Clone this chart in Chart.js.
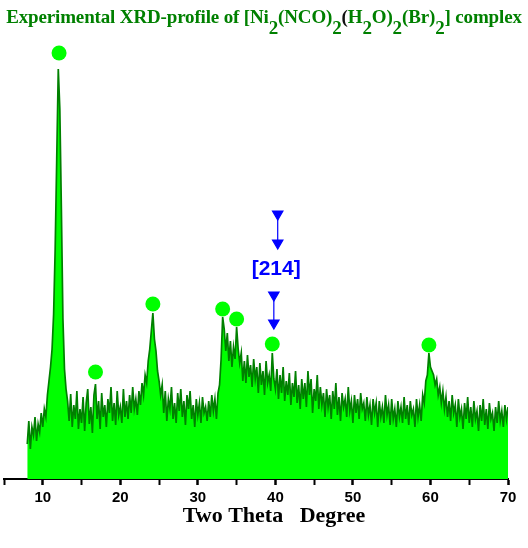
<!DOCTYPE html>
<html>
<head>
<meta charset="utf-8">
<script src="https://cdn.jsdelivr.net/npm/chart.js@4.4.1/dist/chart.umd.min.js"></script>
<style>
  body { margin: 0; background: #fff; }
  #wrap { position: relative; width: 528px; height: 548px; }
  #myChart { position: absolute; left: 0; top: 0; }
  #title {
    position: absolute; left: 0; top: 7px; width: 528px;
    text-align: center; white-space: nowrap;
    font-family: "Liberation Serif", "Times New Roman", serif;
    font-weight: bold; font-size: 19px; line-height: 19px;
    color: #008000; letter-spacing: -0.15px;
  }
  #title .s { position: relative; top: 0.6em; }
  #title .k { color: #111; }
</style>
</head>
<body>
<div id="wrap">
  <canvas id="myChart" width="528" height="548"></canvas>
  <div id="title">Experimental XRD-profile of [Ni<span class="s">2</span>(NCO)<span class="s">2</span><span class="k">(</span>H<span class="s">2</span>O)<span class="s">2</span>(Br)<span class="s">2</span>] complex</div>
</div>
<script>
// scan grid: 2theta from 8.0 to 70.0 in 0.2 degree steps
const scan_start = 8.0
const scan_step = 0.2

// intensity (arb. units), one row = 2 degrees
const intensity = [
    35, 58, 30, 52, 44, 62, 38, 55, 47, 66,          // 8
    52, 70, 62, 84, 98, 112, 130, 165, 230, 320,     // 10
    410, 370, 270, 160, 110, 90, 78, 58, 85, 52,     // 12
    74, 60, 88, 50, 70, 56, 82, 48, 76, 90,          // 14
    55, 72, 46, 84, 95, 60, 78, 50, 86, 62,          // 16
    74, 52, 80, 66, 92, 58, 76, 54, 88, 64,          // 18
    72, 56, 90, 62, 78, 60, 84, 66, 92, 70,          // 20
    80, 64, 88, 74, 96, 84, 104, 96, 118, 130,       // 22
    148, 166, 140, 128, 108, 98, 84, 94, 66, 88,     // 24
    58, 80, 70, 92, 60, 76, 56, 86, 68, 90,          // 26
    62, 78, 54, 84, 70, 88, 60, 74, 52, 80,          // 28
    64, 76, 56, 82, 66, 72, 58, 78, 62, 84,          // 30
    68, 80, 60, 86, 94, 120, 162, 150, 128, 146,     // 32
    118, 138, 112, 132, 120, 152, 130, 116, 126, 98, // 34
    118, 96, 124, 102, 114, 92, 120, 100, 112, 86,   // 36
    116, 94, 108, 84, 118, 96, 104, 88, 126, 100,    // 38
    90, 110, 80, 104, 86, 112, 78, 98, 84, 106,      // 40
    74, 96, 82, 108, 76, 94, 70, 100, 80, 96,        // 42
    72, 108, 84, 100, 66, 90, 78, 104, 70, 92,       // 44
    74, 86, 62, 90, 72, 84, 60, 88, 70, 96,          // 46
    64, 82, 58, 86, 72, 80, 62, 92, 68, 78,          // 48
    56, 84, 66, 80, 60, 86, 70, 76, 58, 82,          // 50
    64, 74, 54, 80, 66, 76, 52, 78, 62, 72,          // 52
    56, 84, 64, 74, 54, 80, 60, 70, 52, 78,          // 54
    62, 72, 56, 82, 60, 74, 54, 78, 64, 70,          // 56
    52, 80, 62, 74, 58, 84, 76, 98, 104, 126,        // 58
    112, 108, 104, 94, 100, 84, 92, 76, 88, 70,      // 60
    82, 62, 78, 58, 84, 66, 74, 52, 80, 62,          // 62
    70, 50, 76, 60, 82, 56, 72, 52, 78, 60,          // 64
    68, 48, 74, 58, 80, 54, 70, 50, 76, 60,          // 66
    66, 48, 72, 56, 78, 58, 68, 52, 74, 60,          // 68
    72                                               // 70
]

// marked reflections (green dots)
const peak_pos = [12.1, 16.8, 24.2, 33.2, 35.0, 39.6, 59.8]
const peak_mark = [426, 107, 175, 170, 160, 135, 134]

// [214] annotation
const hkl_text = '[214]'
const hkl_pos = 40.1
const hkl_level = 210
const arrow_top_x = [40.3, 40.3]
const arrow_top_y = [265, 236]
const arrow_low_x = [39.8, 39.8]
const arrow_low_y = [184, 156]

const x_ticks = [10, 20, 30, 40, 50, 60, 70]
const x_title = 'Two Theta   Degree'

const scan = intensity.map((v, i) => ({ x: +(scan_start + i * scan_step).toFixed(1), y: v }))
const dots = peak_pos.map((p, i) => ({ x: p, y: peak_mark[i] }))
const toXY = (xs, ys) => xs.map((x, i) => ({ x: x, y: ys[i] }))

const hklLabel = {
    id: 'hklLabel',
    afterDatasetsDraw(chart) {
        const c = chart.ctx
        c.save()
        c.fillStyle = '#0000ff'
        c.font = 'bold 21px "Liberation Sans", Arial, sans-serif'
        c.textAlign = 'center'
        c.textBaseline = 'middle'
        c.fillText(hkl_text, chart.scales.x.getPixelForValue(hkl_pos), chart.scales.y.getPixelForValue(hkl_level))
        c.restore()
    }
}

// axis title sits a little right of centre in the original
const axisTitle = {
    id: 'axisTitle',
    afterDraw(chart) {
        const c = chart.ctx
        const a = chart.chartArea
        c.save()
        c.fillStyle = '#000'
        c.font = 'bold 22px "Liberation Serif", "Times New Roman", serif'
        c.textAlign = 'center'
        c.textBaseline = 'alphabetic'
        c.fillText(x_title, (a.left + a.right) / 2 + 18, a.bottom + 43)
        c.restore()
    }
}

const arrowSet = (pts) => ({
    data: pts,
    borderColor: '#0000ff',
    backgroundColor: '#0000ff',
    borderWidth: 1.2,
    pointStyle: 'triangle',
    rotation: 180,
    pointRadius: 6,
    fill: false,
    order: 0
})

var ctx = document.getElementById('myChart').getContext('2d');
var myChart = new Chart(ctx, {
    type: 'line',
    data: {
        datasets: [
            arrowSet(toXY(arrow_top_x, arrow_top_y)),
            arrowSet(toXY(arrow_low_x, arrow_low_y)),
            {
                label: 'peaks',
                data: dots,
                showLine: false,
                pointRadius: 7.5,
                pointBackgroundColor: '#00ff00',
                pointBorderWidth: 0,
                order: 1
            },
            {
                label: 'XRD',
                data: scan,
                borderColor: '#008000',
                backgroundColor: '#00ff00',
                borderWidth: 1.7,
                pointRadius: 0,
                tension: 0,
                fill: 'origin',
                order: 2
            }
        ]
    },
    options: {
        responsive: false,
        animation: false,
        layout: { autoPadding: false, padding: { left: 4, right: 20, top: 40, bottom: 37 } },
        plugins: { legend: { display: false }, tooltip: { enabled: false } },
        scales: {
            x: {
                type: 'linear',
                min: 5,
                max: 70,
                border: { color: '#000', width: 2 },
                grid: {
                    drawOnChartArea: false,
                    color: '#000',
                    tickLength: 6,
                    tickWidth: (c) => (c.tick && c.tick.value % 10 === 0 ? 2.5 : 2)
                },
                ticks: {
                    stepSize: 5,
                    padding: 4,
                    color: '#000',
                    font: { family: '"Liberation Sans", Arial, sans-serif', size: 15, weight: 'bold' },
                    callback: (v) => (x_ticks.includes(v) ? v : '')
                }
            },
            y: {
                display: false,
                min: 0,
                max: 439
            }
        }
    },
    plugins: [hklLabel, axisTitle]
});
</script>
</body>
</html>
